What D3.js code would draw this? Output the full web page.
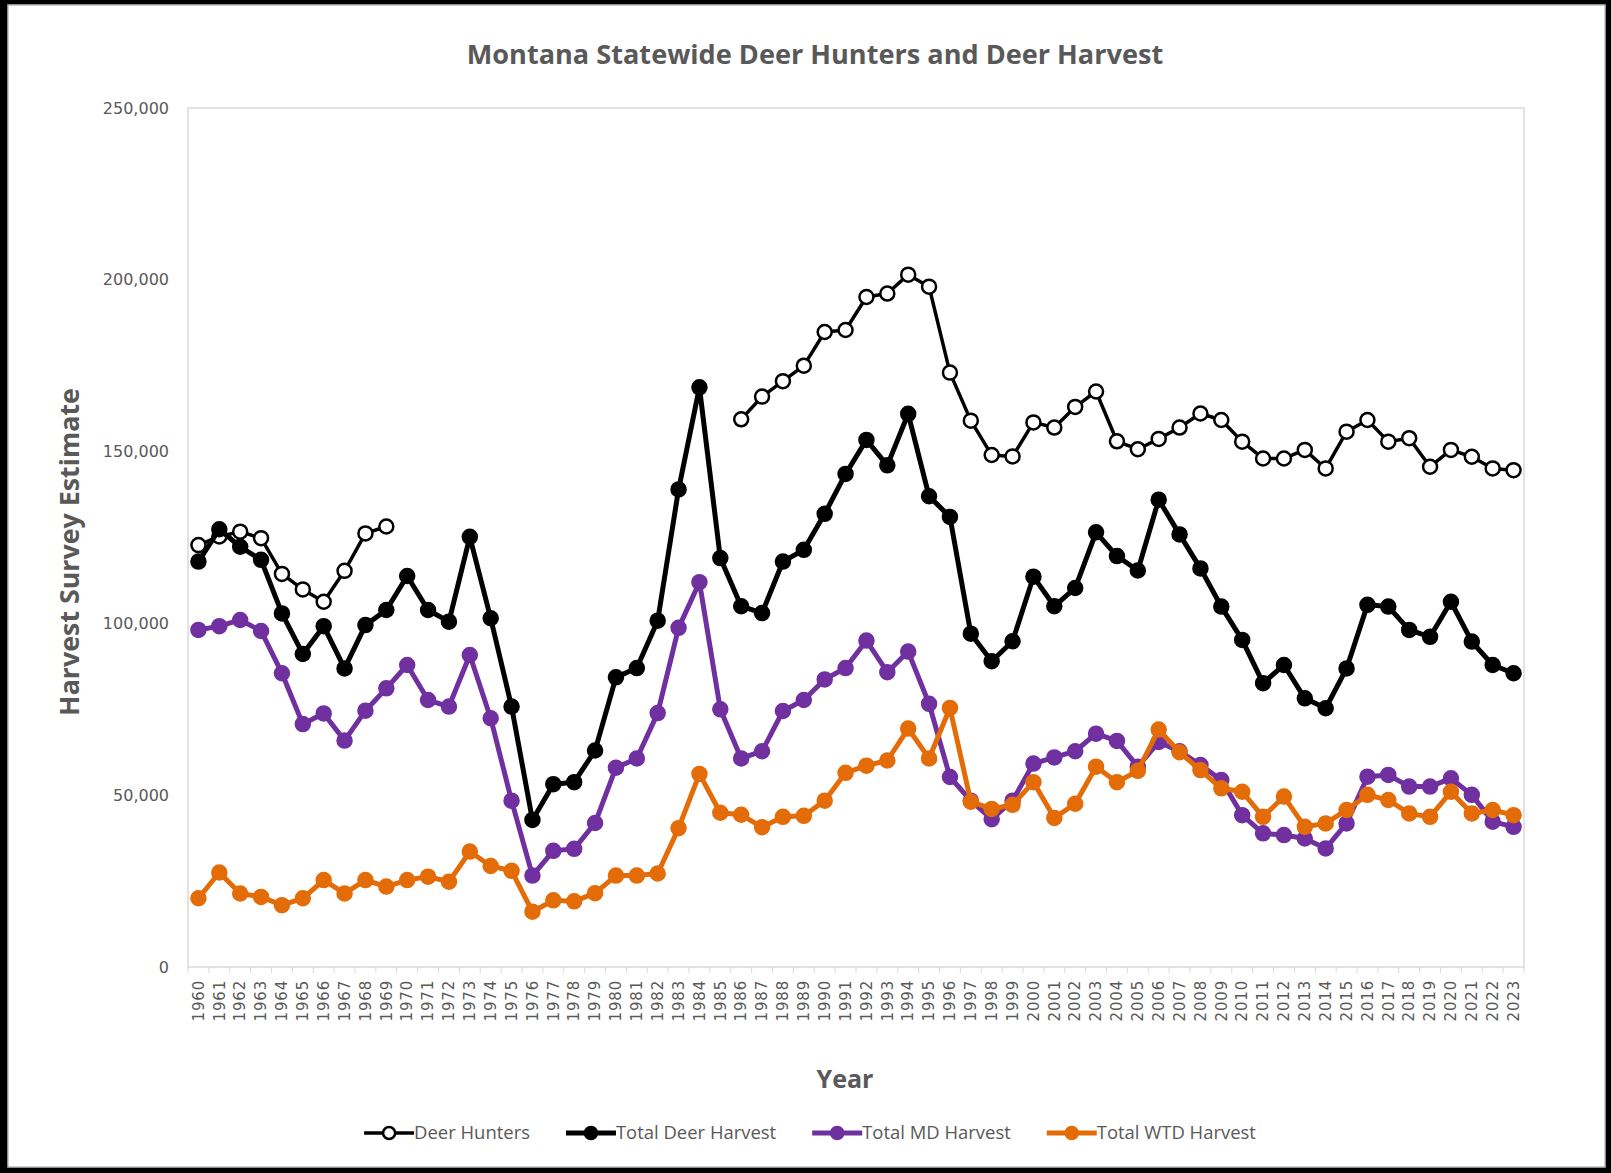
<!DOCTYPE html>
<html>
<head>
<meta charset="utf-8">
<script src="https://cdn.jsdelivr.net/npm/d3@7"></script>
<style>
  body { margin: 0; background: #000; }
  svg { display: block; }
</style>
</head>
<body>
<svg id="chart"></svg>
<script>
// categories
const years = [1960,1961,1962,1963,1964,1965,1966,1967,1968,1969,
  1970,1971,1972,1973,1974,1975,1976,1977,1978,1979,
  1980,1981,1982,1983,1984,1985,1986,1987,1988,1989,
  1990,1991,1992,1993,1994,1995,1996,1997,1998,1999,
  2000,2001,2002,2003,2004,2005,2006,2007,2008,2009,
  2010,2011,2012,2013,2014,2015,2016,2017,2018,2019,
  2020,2021,2022,2023];

// series
const deerHunters = [122800,125300,126700,124800,114400,109900,106300,115300,126200,128200,
  null,null,null,null,null,null,null,null,null,null,
  null,null,null,null,null,null,159400,166000,170500,175000,
  184800,185400,195000,196000,201500,198000,173000,159000,149000,148600,
  158500,157000,163000,167500,153000,150700,153700,157000,161100,159200,
  152900,148000,148000,150500,145100,155800,159200,152900,153900,145600,
  150500,148500,145100,144600];

const totalHarvest = [118000,127400,122300,118500,102900,91100,99200,86900,99500,103900,
  113800,103900,100500,125200,101500,75800,42800,53200,53800,63000,
  84300,87000,100800,139000,168700,119000,105000,103000,118000,121400,
  131900,143500,153400,146000,161000,137000,131000,97000,89000,94800,
  113600,105000,110300,126500,119600,115400,136000,125900,116000,104900,
  95200,82600,87900,78200,75300,86900,105400,104900,98100,96100,
  106300,94700,87900,85500];

const mdHarvest = [98100,99200,101000,97800,85500,70700,73800,65900,74600,81100,
  87900,77700,75800,90800,72400,48400,26600,33800,34400,41900,
  58000,60700,73900,98700,112000,75000,60700,62800,74500,77700,
  83700,87000,95000,85800,91800,76600,55300,48400,43000,48400,
  59200,61000,62800,67900,65800,58300,65500,62800,58800,54400,
  44200,38900,38400,37400,34500,41800,55400,55900,52500,52500,
  54900,50100,42300,40800];

const wtdHarvest = [20000,27500,21400,20400,18000,20000,25300,21400,25300,23400,
  25300,26300,24800,33600,29400,28000,16100,19400,19100,21500,
  26600,26600,27200,40400,56200,44900,44300,40700,43700,44000,
  48400,56500,58600,60100,69400,60700,75400,48100,46000,47200,
  53800,43400,47500,58300,53800,57100,69100,62500,57300,52000,
  51000,43700,49600,40800,41800,45700,50100,48600,44700,43700,
  51000,44700,45700,44200];

const seriesNames = ['Deer Hunters', 'Total Deer Harvest', 'Total MD Harvest', 'Total WTD Harvest'];
const yTicks = [0, 50000, 100000, 150000, 200000, 250000];

const series = [
  {name: seriesNames[0], values: deerHunters, color: '#000', hollow: true, width: 3.5},
  {name: seriesNames[1], values: totalHarvest, color: '#000', hollow: false, width: 5},
  {name: seriesNames[2], values: mdHarvest, color: '#7030A0', hollow: false, width: 5},
  {name: seriesNames[3], values: wtdHarvest, color: '#E36C09', hollow: false, width: 5}
];

const W = 1611, H = 1173;
const textGray = '#595959';
const svg = d3.select('#chart').attr('width', W).attr('height', H);

// outer black frame + white sheet
svg.append('rect').attr('width', W).attr('height', H).attr('fill', '#000');
svg.append('rect')
  .attr('x', 8).attr('y', 5).attr('width', W - 14).attr('height', H - 11)
  .attr('fill', '#fff').attr('stroke', '#bfbfbf').attr('stroke-width', 1.5);

const plot = {left: 188, top: 108, right: 1524, bottom: 967};

// shrink/grow a text so it spans a given width
const fitWidth = (sel, w) => {
  const fs = parseFloat(sel.attr('font-size'));
  const len = sel.node().getComputedTextLength();
  sel.attr('font-size', fs * w / len);
};

const x = d3.scaleBand()
  .domain(years)
  .range([plot.left, plot.right]);

const y = d3.scaleLinear()
  .domain([0, 250000])
  .range([plot.bottom, plot.top]);

const cx = (d, i) => x(years[i]) + x.bandwidth() / 2;

// plot frame
svg.append('rect')
  .attr('x', plot.left).attr('y', plot.top)
  .attr('width', plot.right - plot.left).attr('height', plot.bottom - plot.top)
  .attr('fill', 'none').attr('stroke', '#d9d9d9').attr('stroke-width', 1.5);

// y axis
const yAxis = svg.append('g')
  .attr('transform', 'translate(' + plot.left + ',0)')
  .call(d3.axisLeft(y).tickValues(yTicks).tickSize(0).tickPadding(19).tickFormat(d3.format(',')));
yAxis.select('.domain').remove();
yAxis.selectAll('text')
  .attr('fill', textGray)
  .attr('font-family', 'DejaVu Sans, sans-serif')
  .attr('font-size', 16);

// x axis (labels at category centres, ticks between categories)
const xAxis = svg.append('g')
  .attr('transform', 'translate(0,' + plot.bottom + ')')
  .call(d3.axisBottom(x).tickSize(0).tickPadding(0));
xAxis.select('.domain').remove();
xAxis.selectAll('text')
  .attr('fill', textGray)
  .attr('font-family', 'DejaVu Sans, sans-serif')
  .attr('font-size', 15)
  .attr('letter-spacing', 0.8)
  .attr('text-anchor', 'end')
  .attr('y', 0)
  .attr('dy', '0.35em')
  .attr('transform', 'translate(0,13) rotate(-90)');

svg.append('g').selectAll('line')
  .data(years.concat([null]))
  .join('line')
  .attr('x1', (d, i) => plot.left + i * x.step())
  .attr('x2', (d, i) => plot.left + i * x.step())
  .attr('y1', plot.bottom)
  .attr('y2', plot.bottom + 6)
  .attr('stroke', '#d9d9d9')
  .attr('stroke-width', 1);

// series
const line = d3.line()
  .defined(d => d != null)
  .x(cx)
  .y(d => y(d));

series.forEach((s) => {
  const g = svg.append('g');
  g.append('path')
    .datum(s.values)
    .attr('d', line)
    .attr('fill', 'none')
    .attr('stroke', s.color)
    .attr('stroke-width', s.width)
    .attr('stroke-linejoin', 'round');

  g.selectAll('circle')
    .data(s.values.map((v, i) => ({v, i})).filter(d => d.v != null))
    .join('circle')
    .attr('cx', d => cx(d.v, d.i))
    .attr('cy', d => y(d.v))
    .attr('r', s.hollow ? 7 : 7.5)
    .attr('fill', s.hollow ? '#fff' : s.color)
    .attr('stroke', s.color)
    .attr('stroke-width', s.hollow ? 2.5 : 1.5);
});

// title
const title = svg.append('text')
  .attr('x', 815).attr('y', 64)
  .attr('text-anchor', 'middle')
  .attr('font-family', 'Open Sans, sans-serif')
  .attr('font-weight', 'bold')
  .attr('font-size', 26)
  .attr('fill', textGray)
  .text('Montana Statewide Deer Hunters and Deer Harvest');
fitWidth(title, 697);

// axis titles
const yTitle = svg.append('text')
  .attr('transform', 'translate(79,552) rotate(-90)')
  .attr('text-anchor', 'middle')
  .attr('font-family', 'Open Sans, sans-serif')
  .attr('font-weight', 'bold')
  .attr('font-size', 24)
  .attr('fill', textGray)
  .text('Harvest Survey Estimate');
fitWidth(yTitle, 328);

const xTitle = svg.append('text')
  .attr('x', 845).attr('y', 1088)
  .attr('text-anchor', 'middle')
  .attr('font-family', 'Open Sans, sans-serif')
  .attr('font-weight', 'bold')
  .attr('font-size', 24)
  .attr('fill', textGray)
  .text('Year');
fitWidth(xTitle, 57);

// legend
const legend = svg.append('g');
const legendY = 1133, swatch = 50, gap = 36;
const items = legend.selectAll('g')
  .data(series)
  .join('g');

items.append('text')
  .attr('x', swatch)
  .attr('y', legendY)
  .attr('dy', '0.35em')
  .attr('font-family', 'Open Sans, sans-serif')
  .attr('font-size', 16)
  .attr('fill', textGray)
  .text(d => d.name);

fitWidth(items.select('text').filter((d, i) => i === 0), 116);
const legendFs = items.select('text').filter((d, i) => i === 0).attr('font-size');
items.select('text').attr('font-size', legendFs);

items.append('line')
  .attr('x1', 0).attr('x2', swatch)
  .attr('y1', legendY).attr('y2', legendY)
  .attr('stroke', d => d.color)
  .attr('stroke-width', d => d.width);

items.append('circle')
  .attr('cx', swatch / 2).attr('cy', legendY)
  .attr('r', d => d.hollow ? 6 : 6.5)
  .attr('fill', d => d.hollow ? '#fff' : d.color)
  .attr('stroke', d => d.color)
  .attr('stroke-width', d => d.hollow ? 2.5 : 1.5);

let offset = 0;
const widths = [];
items.each(function() {
  const w = swatch + d3.select(this).select('text').node().getComputedTextLength();
  widths.push(w);
});
const total = d3.sum(widths) + gap * (widths.length - 1);
let start = 810 - total / 2;
items.attr('transform', (d, i) => {
  const t = 'translate(' + (start + offset) + ',0)';
  offset += widths[i] + gap;
  return t;
});
</script>
</body>
</html>
